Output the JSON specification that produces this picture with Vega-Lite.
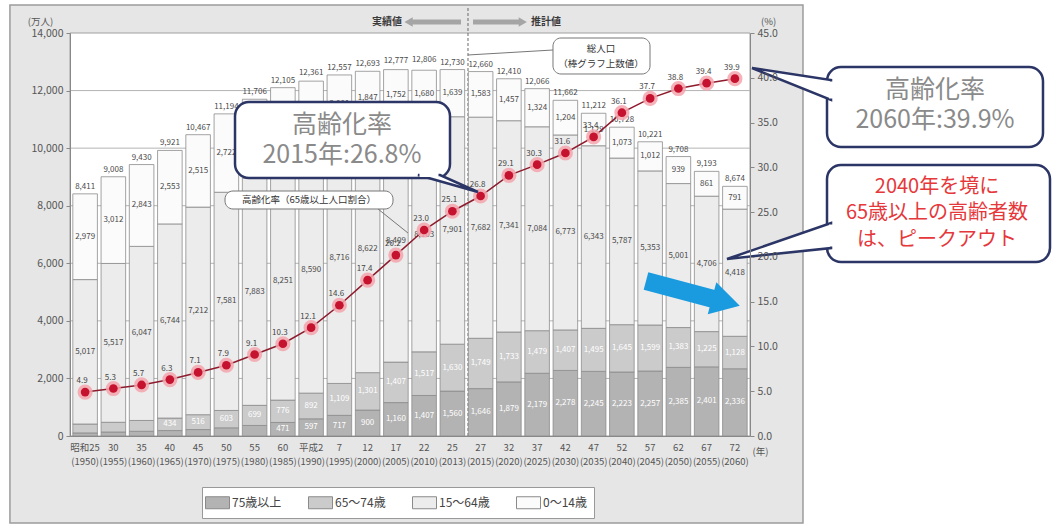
{
  "$schema": "https://vega.github.io/schema/vega-lite/v6.json",
  "width": 680,
  "height": 403,
  "autosize": {"type": "none"},
  "padding": {"left": 70, "top": 33, "right": 310, "bottom": 89},
  "background": "#ffffff",
  "config": {
    "font": "Noto Sans CJK JP",
    "view": {"stroke": null}
  },
  "datasets": {
    "pop": [
      {"year": "昭和25 (1950)", "total": 8411, "75歳以上": 107, "65～74歳": 309, "15～64歳": 5017, "0～14歳": 2979, "rate": 4.9},
      {"year": "30 (1955)", "total": 9008, "75歳以上": 139, "65～74歳": 338, "15～64歳": 5517, "0～14歳": 3012, "rate": 5.3},
      {"year": "35 (1960)", "total": 9430, "75歳以上": 164, "65～74歳": 376, "15～64歳": 6047, "0～14歳": 2843, "rate": 5.7},
      {"year": "40 (1965)", "total": 9921, "75歳以上": 189, "65～74歳": 434, "15～64歳": 6744, "0～14歳": 2553, "rate": 6.3},
      {"year": "45 (1970)", "total": 10467, "75歳以上": 224, "65～74歳": 516, "15～64歳": 7212, "0～14歳": 2515, "rate": 7.1},
      {"year": "50 (1975)", "total": 11194, "75歳以上": 284, "65～74歳": 603, "15～64歳": 7581, "0～14歳": 2722, "rate": 7.9},
      {"year": "55 (1980)", "total": 11706, "75歳以上": 366, "65～74歳": 699, "15～64歳": 7883, "0～14歳": 2751, "rate": 9.1},
      {"year": "60 (1985)", "total": 12105, "75歳以上": 471, "65～74歳": 776, "15～64歳": 8251, "0～14歳": 2603, "rate": 10.3},
      {"year": "平成2 (1990)", "total": 12361, "75歳以上": 597, "65～74歳": 892, "15～64歳": 8590, "0～14歳": 2249, "rate": 12.1},
      {"year": "7 (1995)", "total": 12557, "75歳以上": 717, "65～74歳": 1109, "15～64歳": 8716, "0～14歳": 2001, "rate": 14.6},
      {"year": "12 (2000)", "total": 12693, "75歳以上": 900, "65～74歳": 1301, "15～64歳": 8622, "0～14歳": 1847, "rate": 17.4},
      {"year": "17 (2005)", "total": 12777, "75歳以上": 1160, "65～74歳": 1407, "15～64歳": 8409, "0～14歳": 1752, "rate": 20.2},
      {"year": "22 (2010)", "total": 12806, "75歳以上": 1407, "65～74歳": 1517, "15～64歳": 8103, "0～14歳": 1680, "rate": 23.0},
      {"year": "25 (2013)", "total": 12730, "75歳以上": 1560, "65～74歳": 1630, "15～64歳": 7901, "0～14歳": 1639, "rate": 25.1},
      {"year": "27 (2015)", "total": 12660, "75歳以上": 1646, "65～74歳": 1749, "15～64歳": 7682, "0～14歳": 1583, "rate": 26.8},
      {"year": "32 (2020)", "total": 12410, "75歳以上": 1879, "65～74歳": 1733, "15～64歳": 7341, "0～14歳": 1457, "rate": 29.1},
      {"year": "37 (2025)", "total": 12066, "75歳以上": 2179, "65～74歳": 1479, "15～64歳": 7084, "0～14歳": 1324, "rate": 30.3},
      {"year": "42 (2030)", "total": 11662, "75歳以上": 2278, "65～74歳": 1407, "15～64歳": 6773, "0～14歳": 1204, "rate": 31.6},
      {"year": "47 (2035)", "total": 11212, "75歳以上": 2245, "65～74歳": 1495, "15～64歳": 6343, "0～14歳": 1129, "rate": 33.4},
      {"year": "52 (2040)", "total": 10728, "75歳以上": 2223, "65～74歳": 1645, "15～64歳": 5787, "0～14歳": 1073, "rate": 36.1},
      {"year": "57 (2045)", "total": 10221, "75歳以上": 2257, "65～74歳": 1599, "15～64歳": 5353, "0～14歳": 1012, "rate": 37.7},
      {"year": "62 (2050)", "total": 9708, "75歳以上": 2385, "65～74歳": 1383, "15～64歳": 5001, "0～14歳": 939, "rate": 38.8},
      {"year": "67 (2055)", "total": 9193, "75歳以上": 2401, "65～74歳": 1225, "15～64歳": 4706, "0～14歳": 861, "rate": 39.4},
      {"year": "72 (2060)", "total": 8674, "75歳以上": 2336, "65～74歳": 1128, "15～64歳": 4418, "0～14歳": 791, "rate": 39.9}
    ]
  },
  "layer": [
    {
      "data": {"values": [{"x": -2.12, "x2": 25.87, "y": -3022, "y2": 14972}]},
      "mark": {"type": "rect", "fill": "#e6e6e6", "stroke": "#9c9c9c", "strokeWidth": 1.5},
      "encoding": {
        "x": {"field": "x", "type": "quantitative", "scale": {"domain": [0, 24], "nice": false, "zero": false}, "axis": null},
        "x2": {"field": "x2"},
        "y": {"field": "y", "type": "quantitative", "scale": {"domain": [0, 14000], "nice": false, "zero": false}, "axis": null},
        "y2": {"field": "y2"}
      }
    },
    {
      "data": {"values": [{"x": 0, "x2": 24, "y": 0, "y2": 14000}]},
      "mark": {"type": "rect", "fill": "#ffffff", "stroke": "#a0a0a0", "strokeWidth": 1},
      "encoding": {
        "x": {"field": "x", "type": "quantitative", "scale": {"domain": [0, 24], "nice": false, "zero": false}, "axis": null},
        "x2": {"field": "x2"},
        "y": {"field": "y", "type": "quantitative", "scale": {"domain": [0, 14000], "nice": false, "zero": false}, "axis": null},
        "y2": {"field": "y2"}
      }
    },
    {
      "data": {"values": [{"x": 14.047, "x2": 14.047, "y": 0, "y2": 14868}]},
      "mark": {"type": "rule", "stroke": "#6a6a6a", "strokeWidth": 1, "strokeDash": [3, 2]},
      "encoding": {
        "x": {"field": "x", "type": "quantitative", "scale": {"domain": [0, 24], "nice": false, "zero": false}, "axis": null},
        "x2": {"field": "x2"},
        "y": {"field": "y", "type": "quantitative", "scale": {"domain": [0, 14000], "nice": false, "zero": false}, "axis": null},
        "y2": {"field": "y2"}
      }
    },
    {
      "layer": [
        {
          "layer": [
            {
              "data": {"values": [{"g": 2000}, {"g": 4000}, {"g": 6000}, {"g": 8000}, {"g": 10000}, {"g": 12000}]},
              "mark": {"type": "rule", "stroke": "#b4b4b4", "strokeWidth": 1},
              "encoding": {
                "y": {"field": "g", "type": "quantitative", "scale": {"domain": [0, 14000], "nice": false}}
              }
            },
            {
              "data": {"name": "pop"},
              "transform": [{"fold": ["75歳以上", "65～74歳", "15～64歳", "0～14歳"], "as": ["key", "value"]}],
              "mark": {"type": "bar", "stroke": "#8c8c8c", "strokeWidth": 0.8},
              "encoding": {
                "x": {
                  "field": "year", "type": "nominal", "sort": null,
                  "scale": {"paddingInner": 0.13, "paddingOuter": 0.1},
                  "axis": {
                    "title": "(年)", "titleX": 690, "titleY": 15, "titleFontSize": 9.5, "titleFontWeight": "normal",
                    "titleColor": "#555555", "titleBaseline": "middle", "titleAlign": "center",
                    "labelAngle": 0, "labelExpr": "split(datum.label, ' ')", "labelFontSize": 9.5, "labelColor": "#555555",
                    "labelPadding": 6, "labelBaseline": "top", "labelLineHeight": 14, "ticks": false,
                    "domainColor": "#888888", "zindex": 1, "labelOverlap": false
                  }
                },
                "y": {
                  "field": "value", "type": "quantitative", "stack": "zero",
                  "scale": {"domain": [0, 14000], "nice": false},
                  "axis": {
                    "title": "(万人)", "titleAngle": 0, "titleX": -30, "titleY": -12, "titleAlign": "center",
                    "titleBaseline": "middle", "titleFontSize": 9.5, "titleFontWeight": "normal", "titleColor": "#555555",
                    "values": [0, 2000, 4000, 6000, 8000, 10000, 12000, 14000], "format": ",d",
                    "labelFontSize": 10.5, "labelColor": "#555555", "tickSize": 4, "tickColor": "#888888",
                    "domainColor": "#888888", "grid": false, "zindex": 1, "labelPadding": 3
                  }
                },
                "color": {
                  "field": "key", "type": "nominal",
                  "scale": {"domain": ["75歳以上", "65～74歳", "15～64歳", "0～14歳"], "range": ["#b3b3b3", "#cbcbcb", "#ececec", "#fbfbfb"]},
                  "legend": {
                    "orient": "none", "legendX": 132, "legendY": 454, "direction": "horizontal", "title": null,
                    "strokeColor": "#999999", "fillColor": "#ffffff", "padding": 7, "labelFontSize": 12, "labelColor": "#444444",
                    "symbolType": "M-1.5,-0.75H1.5V0.75H-1.5Z", "symbolSize": 256, "symbolStrokeColor": "#8a8a8a",
                    "symbolStrokeWidth": 1, "columnPadding": 24, "labelOffset": 6, "zindex": 1
                  }
                },
                "order": {"field": "key", "sort": "descending"}
              }
            },
            {
              "data": {"name": "pop"},
              "mark": {"type": "text", "baseline": "bottom", "dy": -3, "fontSize": 8, "color": "#4a4a4a"},
              "encoding": {
                "x": {"field": "year", "type": "nominal", "sort": null},
                "y": {"field": "total", "type": "quantitative"},
                "text": {"field": "total", "type": "quantitative", "format": ","}
              }
            },
            {
              "data": {"name": "pop"},
              "transform": [{"fold": ["75歳以上", "65～74歳", "15～64歳", "0～14歳"], "as": ["key", "value"]}],
              "mark": {"type": "text", "baseline": "middle", "fontSize": 8},
              "encoding": {
                "x": {"field": "year", "type": "nominal", "sort": null},
                "y": {"field": "value", "type": "quantitative", "stack": "zero", "bandPosition": 0.5},
                "detail": {"field": "key"},
                "order": {"field": "key", "sort": "descending"},
                "text": {"condition": {"test": "datum.value < 400", "value": ""}, "field": "value", "type": "quantitative", "format": ","},
                "color": {"condition": {"test": "datum.key == '75歳以上' || datum.key == '65～74歳'", "value": "#ffffff"}, "value": "#4a4a4a"}
              }
            }
          ]
        },
        {
          "layer": [
            {
              "data": {"name": "pop"},
              "mark": {"type": "line", "color": "#8e1a2c", "strokeWidth": 1.5},
              "encoding": {
                "x": {"field": "year", "type": "nominal", "sort": null},
                "y": {
                  "field": "rate", "type": "quantitative", "scale": {"domain": [0, 45], "nice": false},
                  "axis": {
                    "orient": "right", "title": "(%)", "titleAngle": 0, "titleX": 18, "titleY": -12, "titleAlign": "center",
                    "titleBaseline": "middle", "titleFontSize": 9.5, "titleFontWeight": "normal", "titleColor": "#555555",
                    "values": [0, 5, 10, 15, 20, 25, 30, 35, 40, 45], "format": ".1f",
                    "labelFontSize": 10.5, "labelColor": "#555555", "tickSize": 4, "tickColor": "#888888",
                    "domainColor": "#888888", "grid": false, "zindex": 1, "labelPadding": 3
                  }
                }
              }
            },
            {
              "data": {"name": "pop"},
              "mark": {"type": "point", "filled": true, "size": 230, "color": "#f5a5ad", "opacity": 0.85},
              "encoding": {
                "x": {"field": "year", "type": "nominal", "sort": null},
                "y": {"field": "rate", "type": "quantitative"}
              }
            },
            {
              "data": {"name": "pop"},
              "mark": {"type": "point", "filled": true, "size": 75, "color": "#c4122f", "opacity": 1},
              "encoding": {
                "x": {"field": "year", "type": "nominal", "sort": null},
                "y": {"field": "rate", "type": "quantitative"}
              }
            },
            {
              "data": {"name": "pop"},
              "mark": {"type": "text", "baseline": "bottom", "dy": -7, "dx": -3, "fontSize": 8, "color": "#444444"},
              "encoding": {
                "x": {"field": "year", "type": "nominal", "sort": null},
                "y": {"field": "rate", "type": "quantitative"},
                "text": {"field": "rate", "type": "quantitative", "format": ".1f"}
              }
            }
          ]
        }
      ],
      "resolve": {"scale": {"y": "independent"}}
    },
    {
      "data": {"values": [{"x": 11.19, "y": 14382, "t": "実績値"}, {"x": 16.8, "y": 14382, "t": "推計値"}]},
      "mark": {"type": "text", "fontSize": 10, "fontWeight": "bold", "color": "#3a3a3a"},
      "encoding": {
        "x": {"field": "x", "type": "quantitative", "scale": {"domain": [0, 24], "nice": false, "zero": false}, "axis": null},
        "y": {"field": "y", "type": "quantitative", "scale": {"domain": [0, 14000], "nice": false, "zero": false}, "axis": null},
        "text": {"field": "t"}
      }
    },
    {
      "data": {"values": [{"x": 12.0, "x2": 13.8, "y": 14382, "y2": 14382}, {"x": 14.224, "x2": 15.9, "y": 14382, "y2": 14382}]},
      "mark": {"type": "rule", "stroke": "#a5a5a5", "strokeWidth": 5},
      "encoding": {
        "x": {"field": "x", "type": "quantitative", "scale": {"domain": [0, 24], "nice": false, "zero": false}, "axis": null},
        "x2": {"field": "x2"},
        "y": {"field": "y", "type": "quantitative", "scale": {"domain": [0, 14000], "nice": false, "zero": false}, "axis": null},
        "y2": {"field": "y2"}
      }
    },
    {
      "data": {"values": [{"x": 11.95, "y": 14382}]},
      "mark": {"type": "point", "shape": "triangle-left", "filled": true, "size": 90, "color": "#a5a5a5", "opacity": 1},
      "encoding": {
        "x": {"field": "x", "type": "quantitative", "scale": {"domain": [0, 24], "nice": false, "zero": false}, "axis": null},
        "y": {"field": "y", "type": "quantitative", "scale": {"domain": [0, 14000], "nice": false, "zero": false}, "axis": null}
      }
    },
    {
      "data": {"values": [{"x": 15.98, "y": 14382}]},
      "mark": {"type": "point", "shape": "triangle-right", "filled": true, "size": 90, "color": "#a5a5a5", "opacity": 1},
      "encoding": {
        "x": {"field": "x", "type": "quantitative", "scale": {"domain": [0, 24], "nice": false, "zero": false}, "axis": null},
        "y": {"field": "y", "type": "quantitative", "scale": {"domain": [0, 14000], "nice": false, "zero": false}, "axis": null}
      }
    },
    {
      "data": {"values": [
        {"x": 14.047, "x2": 17.047, "y": 13236, "y2": 13409},
        {"x": 10.871, "x2": 11.929, "y": 7886, "y2": 7052}
      ]},
      "mark": {"type": "rule", "stroke": "#777777", "strokeWidth": 1},
      "encoding": {
        "x": {"field": "x", "type": "quantitative", "scale": {"domain": [0, 24], "nice": false, "zero": false}, "axis": null},
        "x2": {"field": "x2"},
        "y": {"field": "y", "type": "quantitative", "scale": {"domain": [0, 14000], "nice": false, "zero": false}, "axis": null},
        "y2": {"field": "y2"}
      }
    },
    {
      "data": {"values": [
        {"x": 17.047, "x2": 20.471, "y": 12576, "y2": 13826},
        {"x": 5.471, "x2": 11.4, "y": 7886, "y2": 8511}
      ]},
      "mark": {"type": "rect", "fill": "#ffffff", "stroke": "#777777", "strokeWidth": 1, "cornerRadius": 8},
      "encoding": {
        "x": {"field": "x", "type": "quantitative", "scale": {"domain": [0, 24], "nice": false, "zero": false}, "axis": null},
        "x2": {"field": "x2"},
        "y": {"field": "y", "type": "quantitative", "scale": {"domain": [0, 14000], "nice": false, "zero": false}, "axis": null},
        "y2": {"field": "y2"}
      }
    },
    {
      "data": {"values": [
        {"x": 18.741, "y": 13444, "t": "総人口"},
        {"x": 18.741, "y": 12923, "t": "（棒グラフ上数値）"},
        {"x": 8.435, "y": 8198, "t": "高齢化率（65歳以上人口割合）"}
      ]},
      "mark": {"type": "text", "fontSize": 9.5, "color": "#333333"},
      "encoding": {
        "x": {"field": "x", "type": "quantitative", "scale": {"domain": [0, 24], "nice": false, "zero": false}, "axis": null},
        "y": {"field": "y", "type": "quantitative", "scale": {"domain": [0, 14000], "nice": false, "zero": false}, "axis": null},
        "text": {"field": "t"}
      }
    },
    {
      "data": {"values": [
        {"x": 5.824, "x2": 13.412, "y": 8963, "y2": 11603},
        {"x": 26.718, "x2": 34.341, "y": 10040, "y2": 12819},
        {"x": 26.718, "x2": 34.588, "y": 6045, "y2": 9414}
      ]},
      "mark": {"type": "rect", "fill": "#ffffff", "stroke": "#2b3566", "strokeWidth": 2.5, "cornerRadius": 14},
      "encoding": {
        "x": {"field": "x", "type": "quantitative", "scale": {"domain": [0, 24], "nice": false, "zero": false}, "axis": null},
        "x2": {"field": "x2"},
        "y": {"field": "y", "type": "quantitative", "scale": {"domain": [0, 14000], "nice": false, "zero": false}, "axis": null},
        "y2": {"field": "y2"}
      }
    },
    {
      "data": {"values": [
        {"id": "a", "x": 24.071, "y": 12784, "y2": 12784},
        {"id": "a", "x": 26.86, "y": 12367, "y2": 11672},
        {"id": "b", "x": 23.188, "y": 6149, "y2": 6149},
        {"id": "b", "x": 26.86, "y": 7399, "y2": 6531}
      ]},
      "mark": {"type": "area", "orient": "vertical", "fill": "#ffffff", "stroke": "#2b3566", "strokeWidth": 2.5, "opacity": 1, "fillOpacity": 1},
      "encoding": {
        "x": {"field": "x", "type": "quantitative", "scale": {"domain": [0, 24], "nice": false, "zero": false}, "axis": null},
        "y": {"field": "y", "type": "quantitative", "stack": null, "scale": {"domain": [0, 14000], "nice": false, "zero": false}, "axis": null},
        "y2": {"field": "y2"},
        "detail": {"field": "id"}
      }
    },
    {
      "data": {"values": [
        {"y": 9067, "x": 12.282, "x2": 13.059},
        {"y": 8476, "x": 14.4, "x2": 14.4}
      ]},
      "mark": {"type": "area", "orient": "horizontal", "fill": "#ffffff", "stroke": "#2b3566", "strokeWidth": 2.5, "opacity": 1, "fillOpacity": 1},
      "encoding": {
        "y": {"field": "y", "type": "quantitative", "scale": {"domain": [0, 14000], "nice": false, "zero": false}, "axis": null},
        "x": {"field": "x", "type": "quantitative", "stack": null, "scale": {"domain": [0, 24], "nice": false, "zero": false}, "axis": null},
        "x2": {"field": "x2"}
      }
    },
    {
      "data": {"values": [
        {"x": 26.86, "x2": 26.86, "y": 12315, "y2": 11724},
        {"x": 26.86, "x2": 26.86, "y": 7347, "y2": 6583},
        {"x": 12.335, "x2": 13.006, "y": 9067, "y2": 9067}
      ]},
      "mark": {"type": "rule", "stroke": "#ffffff", "strokeWidth": 4},
      "encoding": {
        "x": {"field": "x", "type": "quantitative", "scale": {"domain": [0, 24], "nice": false, "zero": false}, "axis": null},
        "x2": {"field": "x2"},
        "y": {"field": "y", "type": "quantitative", "scale": {"domain": [0, 14000], "nice": false, "zero": false}, "axis": null},
        "y2": {"field": "y2"}
      }
    },
    {
      "data": {"values": [
        {"x": 9.6, "y": 10804, "t": "高齢化率"},
        {"x": 9.6, "y": 9762, "t": "2015年:26.8%"},
        {"x": 30.53, "y": 12020, "t": "高齢化率"},
        {"x": 30.53, "y": 10978, "t": "2060年:39.9%"}
      ]},
      "mark": {"type": "text", "fontSize": 25, "color": "#8a8a8a", "baseline": "middle"},
      "encoding": {
        "x": {"field": "x", "type": "quantitative", "scale": {"domain": [0, 24], "nice": false, "zero": false}, "axis": null},
        "y": {"field": "y", "type": "quantitative", "scale": {"domain": [0, 14000], "nice": false, "zero": false}, "axis": null},
        "text": {"field": "t"}
      }
    },
    {
      "data": {"values": [
        {"x": 30.6, "y": 8650, "t": "2040年を境に"},
        {"x": 30.6, "y": 7747, "t": "65歳以上の高齢者数"},
        {"x": 30.6, "y": 6809, "t": "は、ピークアウト"}
      ]},
      "mark": {"type": "text", "fontSize": 20, "color": "#e5383b", "baseline": "middle"},
      "encoding": {
        "x": {"field": "x", "type": "quantitative", "scale": {"domain": [0, 24], "nice": false, "zero": false}, "axis": null},
        "y": {"field": "y", "type": "quantitative", "scale": {"domain": [0, 14000], "nice": false, "zero": false}, "axis": null},
        "text": {"field": "t"}
      }
    },
    {
      "data": {"values": [{"x": 20.329, "x2": 22.976, "y": 5385, "y2": 4690}]},
      "mark": {"type": "rule", "stroke": "#1a9be0", "strokeWidth": 18, "strokeCap": "butt"},
      "encoding": {
        "x": {"field": "x", "type": "quantitative", "scale": {"domain": [0, 24], "nice": false, "zero": false}, "axis": null},
        "x2": {"field": "x2"},
        "y": {"field": "y", "type": "quantitative", "scale": {"domain": [0, 14000], "nice": false, "zero": false}, "axis": null},
        "y2": {"field": "y2"}
      }
    },
    {
      "data": {"values": [{"x": 23.15, "y": 4655}]},
      "mark": {"type": "point", "shape": "triangle-right", "filled": true, "size": 1100, "angle": 15, "color": "#1a9be0", "opacity": 1},
      "encoding": {
        "x": {"field": "x", "type": "quantitative", "scale": {"domain": [0, 24], "nice": false, "zero": false}, "axis": null},
        "y": {"field": "y", "type": "quantitative", "scale": {"domain": [0, 14000], "nice": false, "zero": false}, "axis": null}
      }
    }
  ],
  "resolve": {"scale": {"x": "independent", "y": "independent"}}
}
